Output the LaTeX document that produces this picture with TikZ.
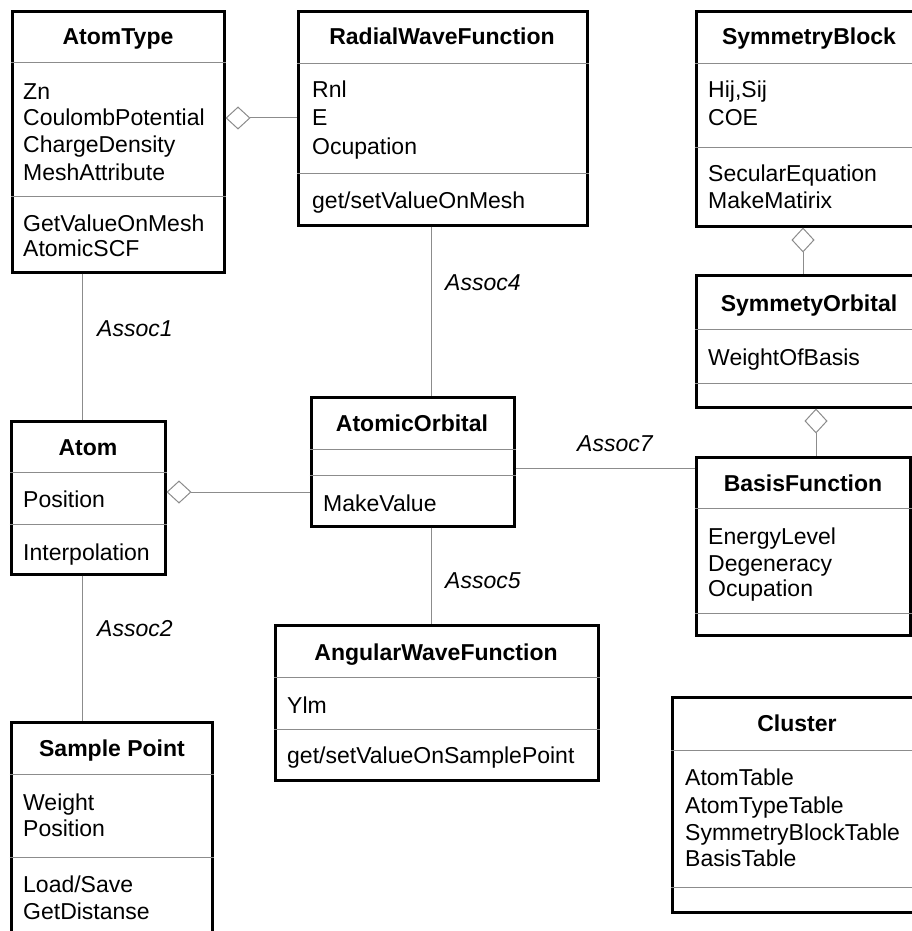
\documentclass[tikz,border=0pt]{standalone}
\usepackage{fontspec}
\setmainfont{Liberation Sans}
\usepackage{tikz}
\usetikzlibrary{arrows.meta}

\definecolor{linegray}{gray}{0.55}

\tikzset{
  classbox/.style={draw, line width=3pt, inner sep=0pt},
  cname/.style={font=\fontsize{23}{27}\selectfont\bfseries, anchor=base, inner sep=0pt},
  member/.style={font=\fontsize{23}{27}\selectfont, anchor=base west, inner sep=0pt},
  assoclbl/.style={font=\fontsize{23}{27}\selectfont\itshape, anchor=base west, inner sep=0pt},
  splitline/.style={draw=linegray, line width=1pt},
  assoc/.style={draw=linegray, line width=1pt},
  agg/.style={assoc, {Diamond[open,length=25pt,width=23pt]}-},
}

\begin{document}
\begin{tikzpicture}[x=1pt, y=-1pt]
        \path[use as bounding box, clip] (0,0) rectangle (912,931);
        % Class boxes
        \node[classbox, minimum width=212pt, minimum height=260pt] (atomtype) at (118,142) {};
        \node[classbox, minimum width=289pt, minimum height=213pt] (radial) at (442.5,118.5) {};
        \node[classbox, minimum width=226pt, minimum height=214pt] (symblock) at (809,119) {};
        \node[classbox, minimum width=226pt, minimum height=132pt] (symorb) at (809,341) {};
        \node[classbox, minimum width=154pt, minimum height=153pt] (atom) at (88,497.5) {};
        \node[classbox, minimum width=203pt, minimum height=129pt] (atomorb) at (412.5,461.5) {};
        \node[classbox, minimum width=214pt, minimum height=178pt] (basis) at (803,546) {};
        \node[classbox, minimum width=323pt, minimum height=155pt] (angular) at (436.5,702.5) {};
        \node[classbox, minimum width=201pt, minimum height=223pt] (sample) at (111.5,833.5) {};
        \node[classbox, minimum width=250pt, minimum height=215pt] (cluster) at (797,804.5) {};
        % Compartment lines
        \draw[splitline] (atomtype.west |- 0,63) -- (atomtype.east |- 0,63);
        \draw[splitline] (atomtype.west |- 0,196) -- (atomtype.east |- 0,196);
        \draw[splitline] (radial.west |- 0,64) -- (radial.east |- 0,64);
        \draw[splitline] (radial.west |- 0,173) -- (radial.east |- 0,173);
        \draw[splitline] (symblock.west |- 0,64) -- (symblock.east |- 0,64);
        \draw[splitline] (symblock.west |- 0,147) -- (symblock.east |- 0,147);
        \draw[splitline] (symorb.west |- 0,329) -- (symorb.east |- 0,329);
        \draw[splitline] (symorb.west |- 0,383) -- (symorb.east |- 0,383);
        \draw[splitline] (atom.west |- 0,472) -- (atom.east |- 0,472);
        \draw[splitline] (atom.west |- 0,524) -- (atom.east |- 0,524);
        \draw[splitline] (atomorb.west |- 0,449) -- (atomorb.east |- 0,449);
        \draw[splitline] (atomorb.west |- 0,475) -- (atomorb.east |- 0,475);
        \draw[splitline] (basis.west |- 0,508) -- (basis.east |- 0,508);
        \draw[splitline] (basis.west |- 0,613) -- (basis.east |- 0,613);
        \draw[splitline] (angular.west |- 0,677) -- (angular.east |- 0,677);
        \draw[splitline] (angular.west |- 0,729) -- (angular.east |- 0,729);
        \draw[splitline] (sample.west |- 0,774) -- (sample.east |- 0,774);
        \draw[splitline] (sample.west |- 0,857) -- (sample.east |- 0,857);
        \draw[splitline] (cluster.west |- 0,750) -- (cluster.east |- 0,750);
        \draw[splitline] (cluster.west |- 0,887) -- (cluster.east |- 0,887);
        % Class names
        \node[cname] (atomtype-name) at (118,45) {AtomType};
        \node[cname] (radial-name) at (442,45) {RadialWaveFunction};
        \node[cname] (symblock-name) at (809,45) {SymmetryBlock};
        \node[cname] (symorb-name) at (809,311) {SymmetyOrbital};
        \node[cname] (atom-name) at (88,455) {Atom};
        \node[cname] (atomorb-name) at (412,431) {AtomicOrbital};
        \node[cname] (basis-name) at (803,491) {BasisFunction};
        \node[cname] (angular-name) at (436,660) {AngularWaveFunction};
        \node[cname] (sample-name) at (112,756) {Sample Point};
        \node[cname] (cluster-name) at (797,731) {Cluster};
        % Attributes and operations
        \node[member] (at-zn) at (23,100) {Zn};
        \node[member] (at-coul) at (23,126) {CoulombPotential};
        \node[member] (at-charge) at (23,153) {ChargeDensity};
        \node[member] (at-mesh) at (23,180) {MeshAttribute};
        \node[member] (at-getval) at (23,231) {GetValueOnMesh};
        \node[member] (at-scf) at (23,256) {AtomicSCF};
        \node[member] (rw-rnl) at (312,98) {Rnl};
        \node[member] (rw-e) at (312,126) {E};
        \node[member] (rw-ocup) at (312,154) {Ocupation};
        \node[member] (rw-getset) at (312,208) {get/setValueOnMesh};
        \node[member] (sb-hs) at (708,98) {Hij,Sij};
        \node[member] (sb-coe) at (708,126) {COE};
        \node[member] (sb-secular) at (708,181) {SecularEquation};
        \node[member] (sb-make) at (708,208) {MakeMatirix};
        \node[member] (so-weight) at (708,365) {WeightOfBasis};
        \node[member] (a-pos) at (23,507) {Position};
        \node[member] (a-interp) at (23,560) {Interpolation};
        \node[member] (ao-make) at (323,511) {MakeValue};
        \node[member] (bf-energy) at (708,544) {EnergyLevel};
        \node[member] (bf-degen) at (708,571) {Degeneracy};
        \node[member] (bf-ocup) at (708,596) {Ocupation};
        \node[member] (aw-ylm) at (287,713) {Ylm};
        \node[member] (aw-getset) at (287,763) {get/setValueOnSamplePoint};
        \node[member] (sp-weight) at (23,810) {Weight};
        \node[member] (sp-pos) at (23,836) {Position};
        \node[member] (sp-load) at (23,892) {Load/Save};
        \node[member] (sp-dist) at (23,919) {GetDistanse};
        \node[member] (cl-atom) at (685,785) {AtomTable};
        \node[member] (cl-type) at (685,813) {AtomTypeTable};
        \node[member] (cl-symblock) at (685,840) {SymmetryBlockTable};
        \node[member] (cl-basis) at (685,866) {BasisTable};
        % Aggregations
        \draw[agg] (atomtype.east |- 0,118) -- (radial.west |- 0,118);
        \draw[agg] (atom.east |- 0,492) -- (atomorb.west |- 0,492);
        \draw[agg] (symblock.south -| 803,0) -- (symorb.north -| 803,0);
        \draw[agg] (symorb.south -| 816,0) -- (basis.north -| 816,0);
        % Associations
        \draw[assoc] (atomtype.south -| 82,0) -- (atom.north -| 82,0);
        \draw[assoc] (atom.south -| 82,0) -- (sample.north -| 82,0);
        \draw[assoc] (radial.south -| 431,0) -- (atomorb.north -| 431,0);
        \draw[assoc] (atomorb.south -| 431,0) -- (angular.north -| 431,0);
        \draw[assoc] (atomorb.east |- 0,468) -- (basis.west |- 0,468);
        \node[assoclbl] (assoc1) at (97,336) {Assoc1};
        \node[assoclbl] (assoc2) at (97,636) {Assoc2};
        \node[assoclbl] (assoc4) at (445,290) {Assoc4};
        \node[assoclbl] (assoc5) at (445,588) {Assoc5};
        \node[assoclbl] (assoc7) at (577,451) {Assoc7};
\end{tikzpicture}
\end{document}
